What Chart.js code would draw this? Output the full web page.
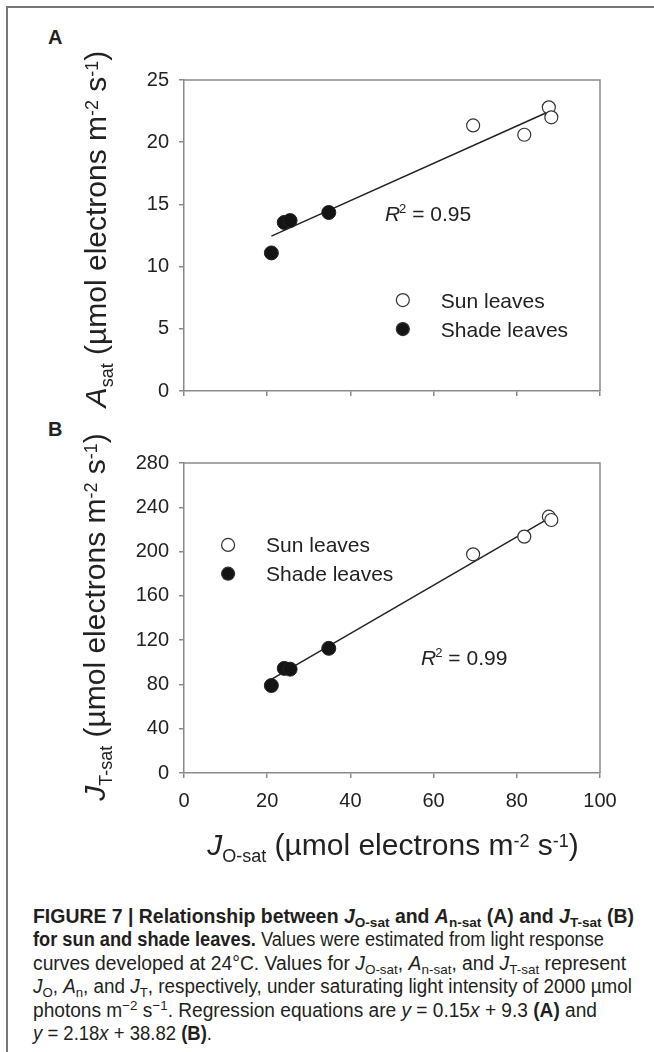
<!DOCTYPE html>
<html>
<head>
<meta charset="utf-8">
<script src="https://cdn.jsdelivr.net/npm/chart.js@4"></script>
<style>
html, body { margin: 0; padding: 0; background: #fff; }
body { width: 654px; height: 1052px; position: relative; overflow: hidden; font-family: "Liberation Sans", Arial, sans-serif; color: #222; }
#frame { position: absolute; left: 6px; top: 6px; width: 700px; height: 1100px; border-left: 2px solid #777; border-top: 2px solid #777; }
.panel { position: absolute; left: 0; width: 654px; height: 420px; }
.tag { position: absolute; font-weight: bold; font-size: 20px; line-height: 20px; }
.title { position: absolute; font-size: 30px; line-height: 30px; white-space: nowrap; }
.title sub, .title sup { font-size: 18px; line-height: 0; }
.title sub { vertical-align: -7px; }
.title sup { vertical-align: 8px; }
.ytitle { transform: translate(-50%, -50%) rotate(-90deg); }
.cap { position: absolute; left: 33px; font-size: 19.5px; line-height: 24px; white-space: nowrap; transform-origin: 0 50%; color: #231f20; }
.cap sub { font-size: 70%; vertical-align: -4px; line-height: 0; }
.cap sup { font-size: 70%; vertical-align: 7px; line-height: 0; }
</style>
</head>
<body>
<div id="frame"></div>

<div class="tag" style="left:48px;top:27px">A</div>
<div class="tag" style="left:48px;top:419px">B</div>

<div class="panel" style="top:0"><canvas id="chartA"></canvas></div>
<div class="panel" style="top:420px"><canvas id="chartB"></canvas></div>

<div class="title ytitle" style="left:96px;top:229px"><i>A</i><sub>sat</sub> (µmol electrons m<sup>-2</sup> s<sup>-1</sup>)</div>
<div class="title ytitle" style="left:95px;top:617px"><i>J</i><sub>T-sat</sub> (µmol electrons m<sup>-2</sup> s<sup>-1</sup>)</div>
<div class="title" style="left:393px;top:830px;transform:translateX(-50%)"><i>J</i><sub>O-sat</sub> (µmol electrons m<sup>-2</sup> s<sup>-1</sup>)</div>

<div class="cap" data-w="601" style="top:904px"><b>FIGURE 7 | Relationship between <i>J</i><sub>O-sat</sub> and <i>A</i><sub>n-sat</sub> (A) and <i>J</i><sub>T-sat</sub> (B)</b></div>
<div class="cap" data-w="571" style="top:927px"><b>for sun and shade leaves.</b> Values were estimated from light response</div>
<div class="cap" data-w="593" style="top:951px">curves developed at 24°C. Values for <i>J</i><sub>O-sat</sub>, <i>A</i><sub>n-sat</sub>, and <i>J</i><sub>T-sat</sub> represent</div>
<div class="cap" data-w="599" style="top:974px"><i>J</i><sub>O</sub>, <i>A</i><sub>n</sub>, and <i>J</i><sub>T</sub>, respectively, under saturating light intensity of 2000 µmol</div>
<div class="cap" data-w="564" style="top:998px">photons m<sup>−2</sup> s<sup>−1</sup>. Regression equations are <i>y</i> = 0.15<i>x</i> + 9.3 <b>(A)</b> and</div>
<div class="cap" data-w="179" style="top:1021px"><i>y</i> = 2.18<i>x</i> + 38.82 <b>(B)</b>.</div>

<script>
// J O-sat for the same leaves (x of both panels)
const jOSun = [69.5, 81.8, 87.7, 88.3]
const jOShade = [21.0, 24.1, 25.5, 34.8]

// panel A: A sat
const aSatSun = [21.35, 20.6, 22.8, 22.0]
const aSatShade = [11.1, 13.55, 13.7, 14.35]

// panel B: J T-sat
const jTSun = [197.5, 213.5, 231.5, 228.5]
const jTShade = [79, 94.5, 93.8, 112.6]

// regression lines from the caption: [slope, intercept]
const regA = [0.15, 9.3]
const regB = [2.18, 38.82]
const regRange = [21.0, 88.3]

const xTicks = [0, 20, 40, 60, 80, 100]
const yTicksA = [0, 5, 10, 15, 20, 25]
const yTicksB = [0, 40, 80, 120, 160, 200, 240, 280]

const legendNames = ['Sun leaves', 'Shade leaves']

const FONT = '"Liberation Sans", Arial, sans-serif'
const AXIS = '#8a8a8a'

function pts(xs, ys) {
    return xs.map((x, i) => ({ x: x, y: ys[i] }))
}

function regLine(reg) {
    return regRange.map(x => ({ x: x, y: reg[0] * x + reg[1] }))
}

// box round the plot, legend and R2 text
const notes = {
    id: 'notes',
    beforeDatasetsDraw(chart) {
        const a = chart.chartArea
        const ctx = chart.ctx
        ctx.save()
        ctx.strokeStyle = AXIS
        ctx.lineWidth = 1.5
        ctx.beginPath()
        ctx.moveTo(a.left, a.top)
        ctx.lineTo(a.right, a.top)
        ctx.lineTo(a.right, a.bottom)
        ctx.stroke()
        ctx.restore()
    },
    afterDatasetsDraw(chart, args, o) {
        const ctx = chart.ctx
        const xs = chart.scales.x
        const ys = chart.scales.y
        ctx.save()
        // legend
        const lx = xs.getPixelForValue(o.legendX)
        o.legendY.forEach((v, i) => {
            const ly = ys.getPixelForValue(v)
            ctx.beginPath()
            ctx.arc(lx, ly, 6.5, 0, Math.PI * 2)
            ctx.fillStyle = i === 0 ? '#fff' : '#141414'
            ctx.fill()
            ctx.lineWidth = 1.2
            ctx.strokeStyle = '#333'
            ctx.stroke()
            ctx.fillStyle = '#222'
            ctx.font = '21px ' + FONT
            ctx.textBaseline = 'alphabetic'
            ctx.fillText(legendNames[i], lx + 38, ly + 7.5)
        })
        // R2
        let rx = xs.getPixelForValue(o.r2X)
        const ry = ys.getPixelForValue(o.r2Y)
        ctx.fillStyle = '#222'
        ctx.font = 'italic 21px ' + FONT
        ctx.fillText('R', rx, ry)
        rx += ctx.measureText('R').width
        ctx.font = '13px ' + FONT
        ctx.fillText('2', rx - 1, ry - 8)
        rx += ctx.measureText('2').width
        ctx.font = '21px ' + FONT
        ctx.fillText(' = ' + o.r2Text, rx - 1, ry)
        ctx.restore()
    }
}

function makeChart(id, sunY, shadeY, reg, yTicks, showX, layoutTop, xHeight, noteOpts) {
    const yMax = yTicks[yTicks.length - 1]
    return new Chart(document.getElementById(id), {
        type: 'scatter',
        data: {
            datasets: [{
                label: legendNames[0],
                data: pts(jOSun, sunY),
                backgroundColor: '#fff',
                borderColor: '#333',
                borderWidth: 1.2,
                pointRadius: 6.5
            },
            {
                label: legendNames[1],
                data: pts(jOShade, shadeY),
                backgroundColor: '#141414',
                borderColor: '#222',
                borderWidth: 1,
                pointRadius: 7
            },
            {
                label: 'fit',
                data: regLine(reg),
                showLine: true,
                borderColor: '#222',
                borderWidth: 1.5,
                pointRadius: 0
            }]
        },
        options: {
            responsive: true,
            maintainAspectRatio: false,
            animation: false,
            layout: { padding: { top: layoutTop, right: 54, left: 0, bottom: 0 } },
            scales: {
                x: {
                    type: 'linear',
                    min: 0,
                    max: 100,
                    afterBuildTicks: s => { s.ticks = xTicks.map(v => ({ value: v })) },
                    afterFit: s => { s.height = xHeight },
                    border: { color: AXIS, width: 1.5 },
                    grid: { drawOnChartArea: false, drawTicks: true, tickLength: 5, color: AXIS, lineWidth: 1.5 },
                    ticks: { display: showX, color: '#222', padding: 11, font: { size: 20, family: FONT } }
                },
                y: {
                    type: 'linear',
                    min: 0,
                    max: yMax,
                    afterBuildTicks: s => { s.ticks = yTicks.map(v => ({ value: v })) },
                    afterFit: s => { s.width = 184 },
                    border: { color: AXIS, width: 1.5 },
                    grid: { drawOnChartArea: false, drawTicks: true, tickLength: 5, color: AXIS, lineWidth: 1.5 },
                    ticks: { color: '#222', padding: 10, font: { size: 20, family: FONT } }
                }
            },
            plugins: {
                legend: { display: false },
                tooltip: { enabled: false },
                notes: noteOpts
            }
        },
        plugins: [notes]
    })
}

makeChart('chartA', aSatSun, aSatShade, regA, yTicksA, false, 80, 29,
    { legendX: 52.6, legendY: [7.31, 4.98], r2X: 48.3, r2Y: 13.7, r2Text: '0.95' })
makeChart('chartB', jTSun, jTShade, regB, yTicksB, true, 43, 67,
    { legendX: 10.6, legendY: [206, 180], r2X: 57.0, r2Y: 97.6, r2Text: '0.99' })

// squeeze caption lines to the widths of the printed caption
document.querySelectorAll('.cap').forEach(el => {
    const w = el.getBoundingClientRect().width
    el.style.transform = 'scaleX(' + (el.dataset.w / w) + ')'
})
</script>
</body>
</html>
